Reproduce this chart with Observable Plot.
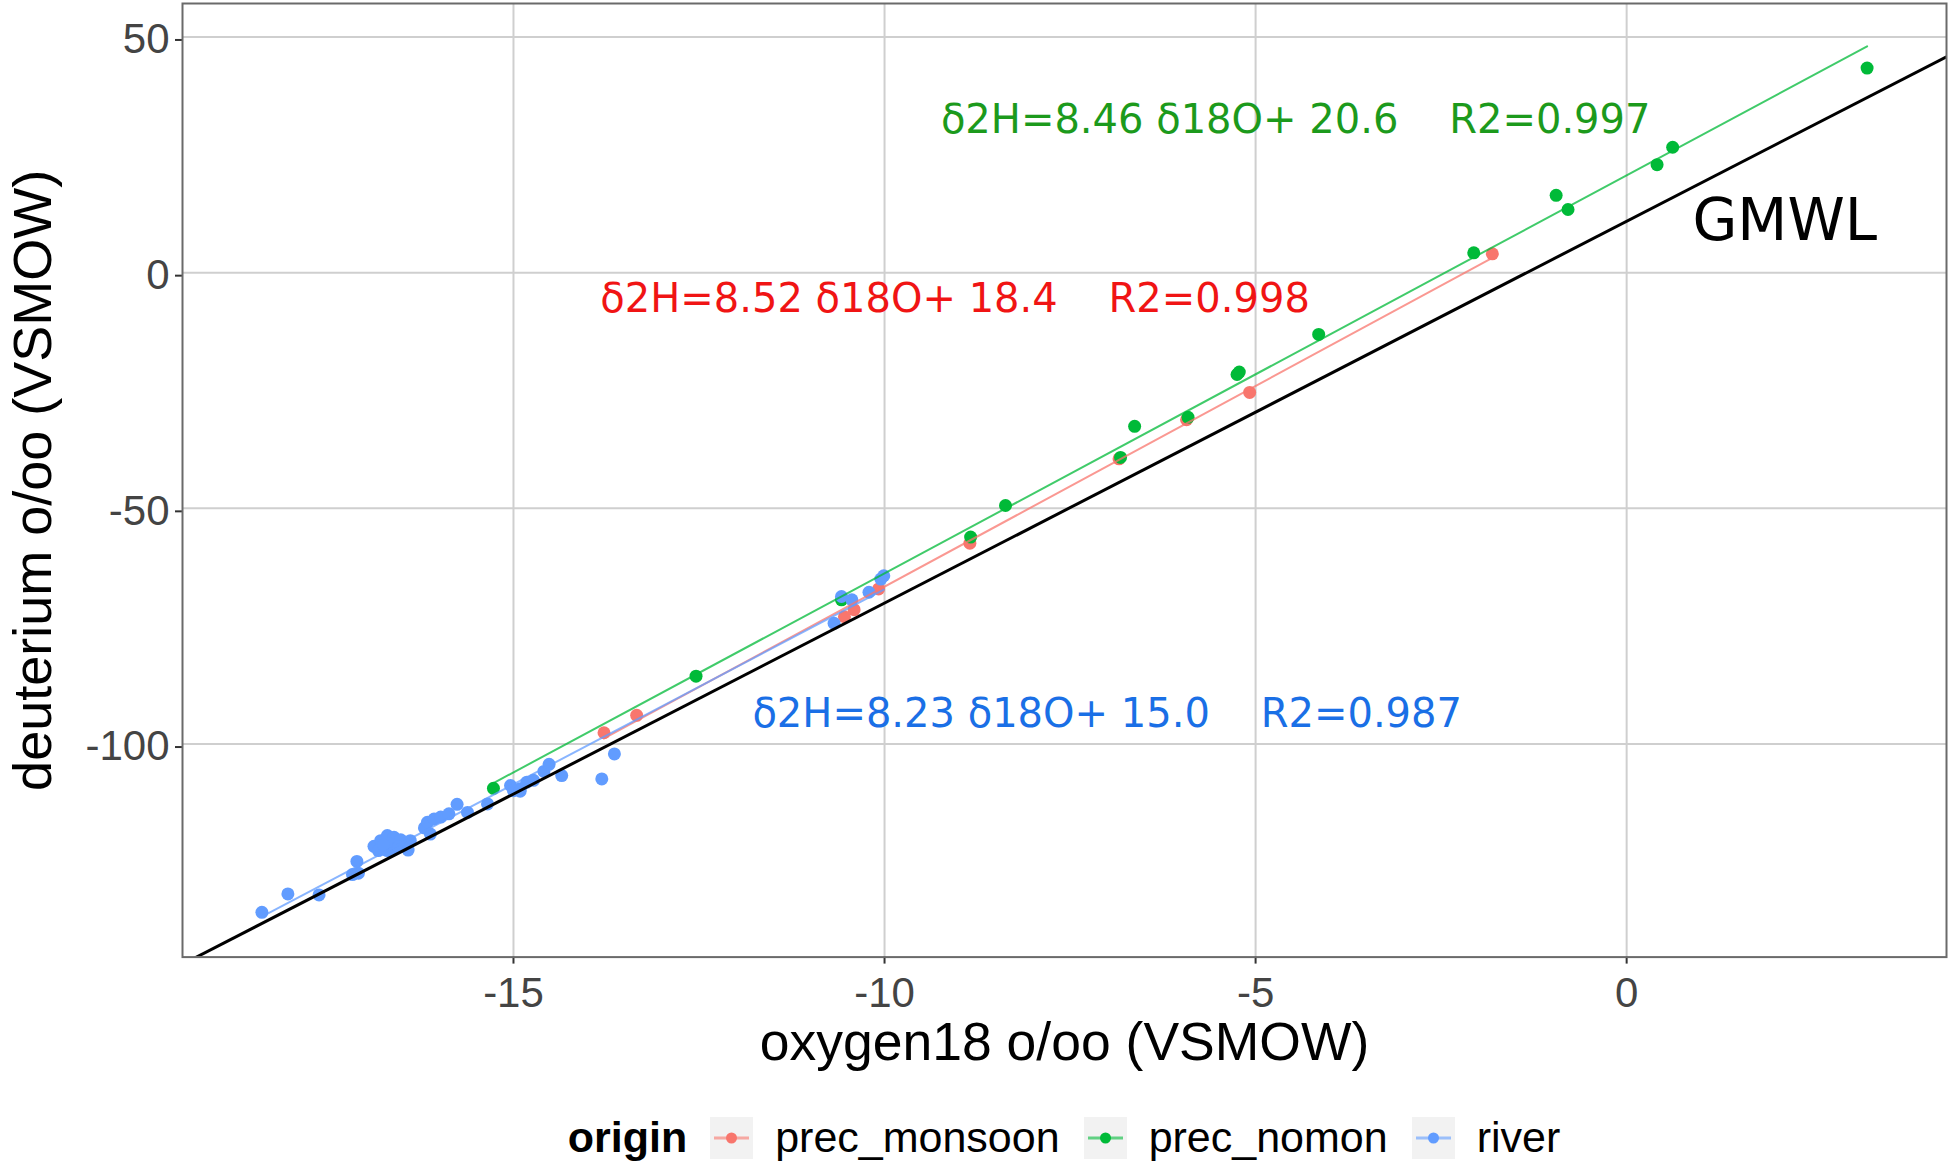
<!DOCTYPE html>
<html>
<head>
<meta charset="utf-8">
<script src="https://cdn.jsdelivr.net/npm/d3@7"></script>
<script src="https://cdn.jsdelivr.net/npm/@observablehq/plot@0.6"></script>
<style>
  html, body { margin: 0; padding: 0; background: #ffffff; }
  #chart svg text { white-space: pre; }
  #legend {
    position: absolute; left: 0; top: 1116px; width: 1950px; height: 43px;
    box-sizing: border-box; padding-left: 178px;
    display: flex; justify-content: center; align-items: center;
    font-family: "Liberation Sans", Arial, sans-serif; font-size: 43px; color: #000;
  }
  #legend .title { font-weight: bold; margin-right: 23px; }
  #legend .key { width: 43px; height: 42px; background: #F2F2F2; margin-right: 22px; display: block; }
  #legend .lab { margin-right: 24px; }
  #legend .lab:last-child { margin-right: 0; }
</style>
</head>
<body>
<div id="chart"></div>
<div id="legend"></div>
<script>
// ---- categories & colours ----
const origins = ["prec_monsoon", "prec_nomon", "river"];
const originColors = ["#F8766D", "#00BA38", "#619CFF"];

// ---- series values (δ18O, δ2H) ----
const monsoonO18 = [-1.81, -5.08, -5.93, -6.84, -8.85, -10.08, -10.41, -10.54, -13.34, -13.78];
const monsoonH2  = [4.0, -25.4, -31.2, -39.5, -57.4, -67.1, -71.5, -73.0, -93.9, -97.6];

const nomonO18 = [3.24, 0.62, 0.41, -0.95, -0.79, -2.06, -4.15, -5.22, -5.25, -5.91, -6.63, -6.82, -8.37, -8.84, -10.58, -12.54, -15.27];
const nomonH2  = [43.4, 26.6, 22.9, 16.4, 13.4, 4.2, -13.1, -21.1, -21.6, -30.7, -32.6, -39.2, -49.4, -56.1, -69.4, -85.6, -109.4];

const riverO18 = [-18.39, -18.04, -17.62, -17.11, -17.17, -17.09,
  -16.88, -16.79, -16.70, -16.61, -16.52, -16.46, -16.39, -16.82, -16.70, -16.60, -16.66, -16.75, -16.55, -16.42,
  -16.20, -16.12, -16.16, -16.07, -15.98, -15.87, -15.76, -15.62, -15.35,
  -15.04, -15.00, -14.91, -14.82, -14.73, -14.91,
  -14.59, -14.52, -14.35, -13.81, -13.64,
  -10.68, -10.58, -10.44, -10.21, -10.05, -10.01];
const riverH2 = [-135.7, -131.8, -132.0, -124.9, -127.7, -127.4,
  -121.7, -120.5, -119.4, -119.8, -120.3, -121.2, -120.5, -122.6, -122.6, -122.2, -121.2, -121.4, -121.8, -122.5,
  -117.8, -119.1, -116.6, -115.9, -115.5, -114.8, -112.8, -114.5, -112.7,
  -108.8, -109.9, -109.5, -108.1, -107.7, -110.0,
  -105.8, -104.3, -106.7, -107.4, -102.1,
  -74.4, -68.7, -69.4, -67.8, -65.0, -64.3];

// ---- regression annotations ----
const annotLabels = [
  "δ2H=8.46 δ18O+ 20.6    R2=0.997",
  "δ2H=8.52 δ18O+ 18.4    R2=0.998",
  "δ2H=8.23 δ18O+ 15.0    R2=0.987"
];
const annotX = [-4.46, -9.05, -7.0];
const annotY = [32.3, -5.7, -93.7];
const annotColors = ["#1c9a1c", "#f01414", "#1a6fe6"];

// ---- Global Meteoric Water Line as drawn in the figure ----
const gmwlSlope = 8.1;
const gmwlIntercept = 10.9;
const gmwlLabel = "GMWL";
const gmwlLabelX = 2.13;
const gmwlLabelY = 10.8;

// ---- axes ----
const xTicks = [-15, -10, -5, 0];
const yTicks = [50, 0, -50, -100];
const xDomain = [-19.46, 4.31];
const yDomain = [-145.2, 57.1];
const xTitle = "oxygen18 o/oo (VSMOW)";
const yTitle = "deuterium o/oo (VSMOW)";
const legendTitle = "origin";

// ---- build table ----
const rows = [];
monsoonO18.forEach((v, i) => rows.push({origin: origins[0], o18: v, h2: monsoonH2[i]}));
nomonO18.forEach((v, i) => rows.push({origin: origins[1], o18: v, h2: nomonH2[i]}));
riverO18.forEach((v, i) => rows.push({origin: origins[2], o18: v, h2: riverH2[i]}));

const annots = annotLabels.map((t, i) => ({text: t, x: annotX[i], y: annotY[i], color: annotColors[i]}));
const gmwl = [{slope: gmwlSlope, intercept: gmwlIntercept}];

const sansFont = "'Liberation Sans', Arial, sans-serif";
const dejaFont = "'DejaVu Sans', sans-serif";

const plot = Plot.plot({
  width: 1950,
  height: 1090,
  marginLeft: 182,
  marginRight: 4,
  marginTop: 3,
  marginBottom: 133.4,
  x: {domain: xDomain},
  y: {domain: yDomain},
  color: {domain: origins, range: originColors},
  style: {fontFamily: sansFont, background: "white", overflow: "visible"},
  marks: [
    Plot.gridX(xTicks, {stroke: "#cfcfcf", strokeOpacity: 1, strokeWidth: 2}),
    Plot.gridY(yTicks, {stroke: "#cfcfcf", strokeOpacity: 1, strokeWidth: 2}),
    Plot.axisX({ticks: xTicks, tickSize: 7, tickPadding: 13, fontSize: 42, fill: "#444444", stroke: "#333333", strokeWidth: 2, tickFormat: d => String(d), label: null}),
    Plot.axisY({ticks: yTicks, tickSize: 7, tickPadding: 6, fontSize: 42, fill: "#444444", stroke: "#333333", strokeWidth: 2, tickFormat: d => String(d), label: null, dy: 3}),
    Plot.dot(rows, {x: "o18", y: "h2", fill: "origin", r: 6.5}),
    Plot.linearRegressionY(rows, {x: "o18", y: "h2", stroke: "origin", ci: 0, strokeWidth: 2, strokeOpacity: 0.75}),
    Plot.link(gmwl, {
      x1: () => xDomain[0], y1: d => d.slope * xDomain[0] + d.intercept,
      x2: () => xDomain[1], y2: d => d.slope * xDomain[1] + d.intercept,
      stroke: "black", strokeWidth: 3, clip: true
    }),
    Plot.frame({stroke: "#6a6a6a", strokeWidth: 2}),
    Plot.text(annots, {x: "x", y: "y", text: "text", fill: d => d.color, fontSize: 40, fontFamily: dejaFont, textAnchor: "middle", lineAnchor: "middle"}),
    Plot.text([gmwlLabel], {x: () => gmwlLabelX, y: () => gmwlLabelY, text: d => d, fill: "black", fontSize: 58, fontFamily: dejaFont, textAnchor: "middle", lineAnchor: "middle"}),
    Plot.text([xTitle], {frameAnchor: "bottom", text: d => d, dy: 102.4, lineAnchor: "bottom", textAnchor: "middle", fontSize: 53.5, fill: "black"}),
    Plot.text([yTitle], {frameAnchor: "left", text: d => d, rotate: -90, dx: -132, lineAnchor: "bottom", textAnchor: "middle", fontSize: 54, fill: "black"})
  ]
});
document.getElementById("chart").appendChild(plot);

// ---- legend ----
const legend = document.getElementById("legend");
const t = document.createElement("span");
t.className = "title";
t.textContent = legendTitle;
legend.appendChild(t);
origins.forEach((o, i) => {
  const ns = "http://www.w3.org/2000/svg";
  const svg = document.createElementNS(ns, "svg");
  svg.setAttribute("class", "key");
  svg.setAttribute("width", 43);
  svg.setAttribute("height", 42);
  const line = document.createElementNS(ns, "line");
  line.setAttribute("x1", 4); line.setAttribute("x2", 39);
  line.setAttribute("y1", 21); line.setAttribute("y2", 21);
  line.setAttribute("stroke", originColors[i]);
  line.setAttribute("stroke-width", 3);
  line.setAttribute("stroke-opacity", 0.6);
  svg.appendChild(line);
  const c = document.createElementNS(ns, "circle");
  c.setAttribute("cx", 21.5); c.setAttribute("cy", 21); c.setAttribute("r", 5.5);
  c.setAttribute("fill", originColors[i]);
  svg.appendChild(c);
  legend.appendChild(svg);
  const s = document.createElement("span");
  s.className = "lab";
  s.textContent = o;
  legend.appendChild(s);
});
</script>
</body>
</html>
